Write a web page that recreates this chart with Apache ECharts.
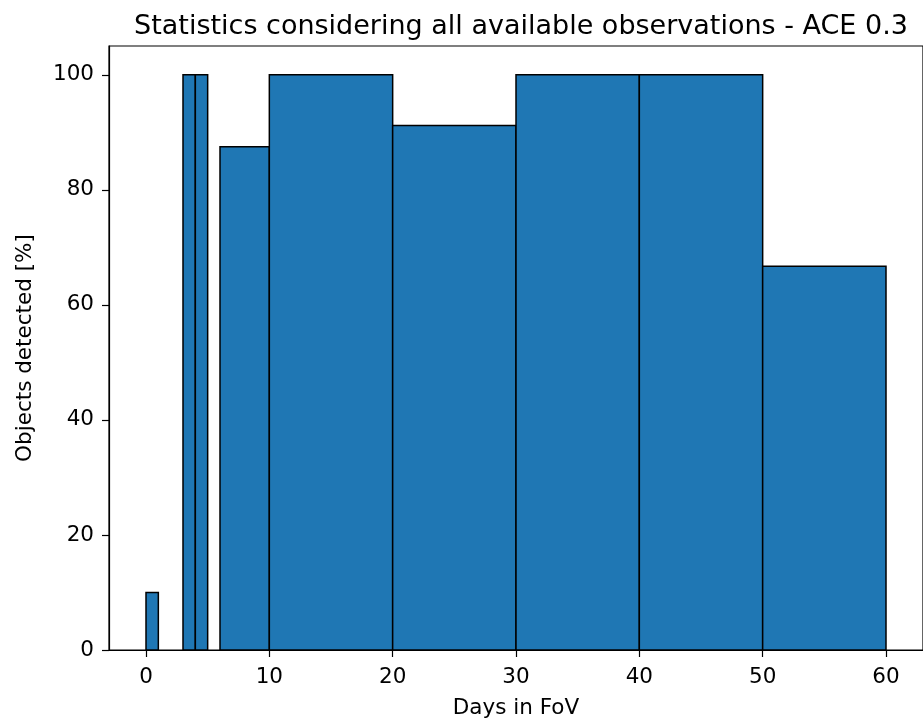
<!DOCTYPE html>
<html>
<head>
<meta charset="utf-8">
<script src="https://cdn.jsdelivr.net/npm/echarts@6/dist/echarts.min.js"></script>
<style>
  html, body { margin: 0; padding: 0; background: #fff; }
  #chart { width: 923px; height: 724px; }
</style>
</head>
<body>
<div id="chart"></div>
<script>
// Histogram bins: left edge, right edge (days in FoV) and share of objects detected
const binStart = [0, 3, 4, 6, 10, 20, 30, 40, 50];
const binEnd   = [1, 4, 5, 10, 20, 30, 40, 50, 60];
const detectedPct = [10, 100, 100, 87.5, 100, 91.2, 100, 100, 66.7];

const xTicks = [0, 10, 20, 30, 40, 50, 60];
const yTicks = [0, 20, 40, 60, 80, 100];

const titleText = 'Statistics considering all available observations - ACE 0.3';
const xName = 'Days in FoV';
const yName = 'Objects detected [%]';

const FONT = 'DejaVu Sans';
const LABEL_SIZE = 21.5;
const TITLE_SIZE = 27;

const data = binStart.map((s, i) => [s, binEnd[i], detectedPct[i]]);

const chart = echarts.init(document.getElementById('chart'), null, { renderer: 'canvas' });

chart.setOption({
  animation: false,
  backgroundColor: '#ffffff',
  title: {
    text: titleText,
    left: 516,
    top: 8,
    textAlign: 'center',
    textStyle: { fontFamily: FONT, fontSize: TITLE_SIZE, fontWeight: 'normal', color: '#000' }
  },
  grid: {
    left: 109, top: 46, width: 815, height: 609,
    show: true, borderColor: '#000', borderWidth: 1.2, backgroundColor: 'transparent'
  },
  xAxis: {
    type: 'value',
    min: -3, max: 63,
    name: xName,
    nameLocation: 'middle',
    nameGap: 47,
    nameTextStyle: { fontFamily: FONT, fontSize: LABEL_SIZE, color: '#000' },
    splitLine: { show: false },
    axisLine: { show: true, onZero: false, lineStyle: { color: '#000', width: 1.2 } },
    axisTick: { show: true, length: 7, customValues: xTicks, lineStyle: { color: '#000', width: 1.2 } },
    axisLabel: { customValues: xTicks, margin: 16, fontFamily: FONT, fontSize: LABEL_SIZE, color: '#000' }
  },
  yAxis: {
    type: 'value',
    min: 0, max: 105,
    name: yName,
    nameLocation: 'middle',
    nameGap: 73,
    nameTextStyle: { fontFamily: FONT, fontSize: LABEL_SIZE, color: '#000' },
    splitLine: { show: false },
    axisLine: { show: true, onZero: false, lineStyle: { color: '#000', width: 1.2 } },
    axisTick: { show: true, length: 7, customValues: yTicks, lineStyle: { color: '#000', width: 1.2 } },
    axisLabel: { customValues: yTicks, margin: 15, fontFamily: FONT, fontSize: LABEL_SIZE, color: '#000' }
  },
  series: [{
    type: 'custom',
    data: data,
    encode: { x: [0, 1], y: 2 },
    clip: true,
    renderItem: function (params, api) {
      const p0 = api.coord([api.value(0), 0]);
      const p1 = api.coord([api.value(1), api.value(2)]);
      return {
        type: 'rect',
        shape: { x: p0[0], y: p1[1], width: p1[0] - p0[0], height: p0[1] - p1[1] },
        style: { fill: '#1f77b4', stroke: '#000', lineWidth: 1.5 }
      };
    }
  }]
});
</script>
</body>
</html>
